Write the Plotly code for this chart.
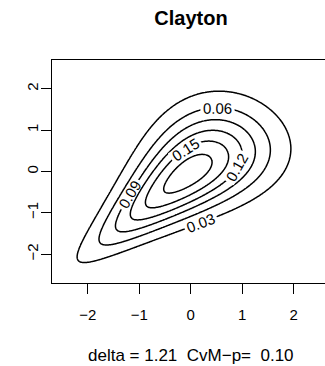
import math
import numpy as np
import plotly.graph_objects as go

# Clayton copula parameter and goodness-of-fit p-value shown under the plot
delta = 1.21
cvm_p = 0.10

# Contour levels of the joint density
levels = [0.03, 0.06, 0.09, 0.12, 0.15, 0.18]

# Axis ticks
x_ticks = [-2, -1, 0, 1, 2]
y_ticks = [-2, -1, 0, 1, 2]

# Evaluation grid (standard normal margins)
grid = np.linspace(-2.8, 2.8, 281)


def norm_cdf(t):
    return np.array([0.5 * (1.0 + math.erf(v / math.sqrt(2.0))) for v in t])


def norm_pdf(t):
    return np.exp(-0.5 * t ** 2) / math.sqrt(2.0 * math.pi)


u = norm_cdf(grid)
v = norm_cdf(grid)
U, V = np.meshgrid(u, v)
PX, PY = np.meshgrid(norm_pdf(grid), norm_pdf(grid))
cop = (1 + delta) * (U * V) ** (-delta - 1) * (U ** (-delta) + V ** (-delta) - 1) ** (-2 - 1 / delta)
dens = cop * PX * PY

font = "Liberation Sans, Arial, Helvetica, sans-serif"

fig = go.Figure(
    go.Contour(
        x=grid,
        y=grid,
        z=dens,
        contours=dict(
            start=levels[0],
            end=levels[-1],
            size=levels[1] - levels[0],
            coloring="none",
            showlabels=True,
            labelformat=".2f",
            labelfont=dict(family=font, size=15, color="black"),
        ),
        line=dict(color="black", width=1.5, smoothing=1),
        showscale=False,
        hoverinfo="skip",
    )
)

fig.update_layout(
    width=325,
    height=366,
    margin=dict(l=52, r=0, t=60, b=83.4),
    paper_bgcolor="white",
    plot_bgcolor="white",
    showlegend=False,
    font=dict(family=font, size=15, color="black"),
    title=dict(
        text="<b>Clayton</b>",
        font=dict(family=font, size=20, color="black"),
        x=191 / 325,
        xanchor="center",
        xref="container",
        y=1 - 17.5 / 366,
        yanchor="middle",
        yref="container",
    ),
    annotations=[
        dict(
            text=f"delta = {delta:.2f}  CvM\u2212p=  {cvm_p:.2f}",
            x=0,
            xref="x",
            xanchor="center",
            y=(282.6 - 355) / 222.6,
            yref="paper",
            yanchor="middle",
            showarrow=False,
            font=dict(family=font, size=17, color="black"),
        )
    ],
)

fig.update_xaxes(
    range=[-2.693, 2.608],
    tickvals=x_ticks,
    ticktext=[str(t).replace("-", "\u2212") for t in x_ticks],
    ticks="outside",
    ticklen=10,
    tickwidth=1,
    tickcolor="black",
    showline=True,
    linecolor="black",
    linewidth=1,
    mirror=True,
    showgrid=False,
    zeroline=False,
    ticklabelstandoff=8,
    tickfont=dict(size=15),
)
fig.update_yaxes(
    range=[-2.70, 2.70],
    tickvals=y_ticks,
    ticktext=[str(t).replace("-", "\u2212") for t in y_ticks],
    tickangle=-90,
    ticks="outside",
    ticklen=10,
    tickwidth=1,
    tickcolor="black",
    showline=True,
    linecolor="black",
    linewidth=1,
    mirror=False,
    showgrid=False,
    zeroline=False,
    ticklabelstandoff=-3,
    tickfont=dict(size=15),
)

fig.write_html("out.html")
